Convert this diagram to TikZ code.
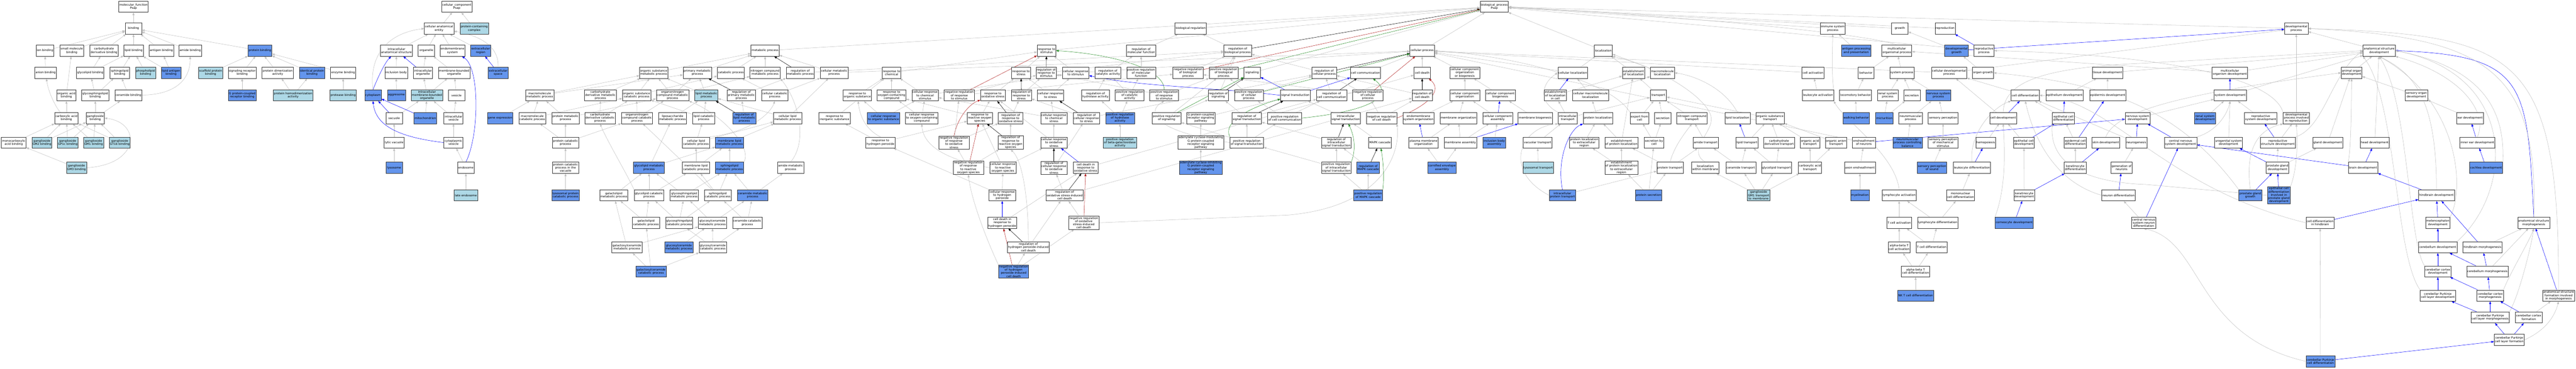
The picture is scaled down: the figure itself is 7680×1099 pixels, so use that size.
\documentclass[tikz,border=0pt]{standalone}
\usepackage{fontspec}
\setmainfont{DejaVu Sans}
\usetikzlibrary{arrows.meta}
\definecolor{lblue}{HTML}{ADD8E6}
\definecolor{cblue}{HTML}{6495ED}
\definecolor{egray}{HTML}{C0C0C0}
\definecolor{ered}{HTML}{B22222}
\definecolor{egreen}{HTML}{228B22}
\definecolor{eblue}{HTML}{0000FF}
\pgfdeclarelayer{back}
\pgfdeclarelayer{edges}
\pgfsetlayers{back,edges,main}
\tikzset{
 box/.style={draw=black!80, line width=1pt, fill=white, rectangle, inner xsep=2pt, inner ysep=1.5pt, minimum width=49pt, minimum height=33pt, align=center, font=\fontsize{8.8}{9.6}\selectfont},
 lb/.style={box, fill=lblue},
 cb/.style={box, fill=cblue},
 ebase/.style={line width=0.8pt, -{Triangle[length=8pt,width=6pt]}},
 eg/.style={ebase, draw=egray},
 eb/.style={ebase, draw=eblue},
 er/.style={ebase, draw=ered},
 en/.style={ebase, draw=egreen},
 ek/.style={ebase, draw=black}
}
\newcommand\xg[2]{\draw[eg] (#1) -- (#2);}
\newcommand\xb[2]{\draw[eb] (#1) -- (#2);}
\newcommand\xr[2]{\draw[er] (#1) -- (#2);}
\newcommand\xn[2]{\draw[en] (#1) -- (#2);}
\newcommand\xk[2]{\draw[ek] (#1) -- (#2);}
\begin{document}
\begin{tikzpicture}[x=1pt,y=-1pt]
\begin{pgfonlayer}{back}
\fill[white] (0,0) rectangle (7680,1099);
\end{pgfonlayer}
\useasboundingbox (0,0) rectangle (7680,1099);
% ---------------- MF ----------------
\node[box] (mf) at (398,20) {molecular\_function\\Psap};
\node[box] (binding) at (398,85) {binding};
\node[box] (ionb) at (134,151) {ion binding};
\node[box] (smb) at (214,151) {small molecule\\binding};
\node[box] (cdb) at (310,151) {carbohydrate\\derivative binding};
\node[box] (lipidb) at (398,151) {lipid binding};
\node[box] (antigenb) at (481,151) {antigen binding};
\node[box] (amideb) at (567,151) {amide binding};
\node[cb] (pb) at (775,151) {protein binding};
\node[box] (anionb) at (136,217) {anion binding};
\node[box] (glycolipidb) at (269,217) {glycolipid binding};
\node[box] (sphingolipidb) at (357,217) {sphingolipid\\binding};
\node[lb] (phospholipidb) at (434,217) {phospholipid\\binding};
\node[cb] (lipidantigenb) at (510,217) {lipid antigen\\binding};
\node[lb] (scaffoldb) at (628,217) {scaffold protein\\binding};
\node[box] (srb) at (722,217) {signaling receptor\\binding};
\node[box] (pdimer) at (828,217) {protein dimerization\\activity};
\node[cb] (ipb) at (930,217) {identical protein\\binding};
\node[box] (enzb) at (1023,217) {enzyme binding};
\node[box] (organicacidb) at (198,284) {organic acid\\binding};
\node[box] (glycosphingolipidb) at (284,284) {glycosphingolipid\\binding};
\node[box] (ceramideb) at (383,284) {ceramide binding};
\node[cb] (gpcrb) at (722,284) {G protein-coupled\\receptor binding};
\node[lb] (phomodimer) at (874,284) {protein homodimerization\\activity};
\node[lb] (proteaseb) at (1023,284) {protease binding};
\node[box] (carboxylicb) at (198,352) {carboxylic acid\\binding};
\node[box] (gangliosideb) at (284,352) {ganglioside\\binding};
\node[box] (monocarbb) at (41,425) {monocarboxylic\\acid binding};
\node[lb] (gm2) at (125,425) {ganglioside\\GM2 binding};
\node[lb] (gp1c) at (202,425) {ganglioside\\GP1c binding};
\node[lb] (gm1) at (279,425) {ganglioside\\GM1 binding};
\node[lb] (gt1b) at (357,425) {ganglioside\\GT1b binding};
\node[lb] (gm3) at (228,500) {ganglioside\\GM3 binding};
% ---------------- CC ----------------
\node[box] (cc) at (1362,20) {cellular\_component\\Psap};
\node[box] (cae) at (1309,85) {cellular anatomical\\entity};
\node[lb] (pcc) at (1414,85) {protein-containing\\complex};
\node[box] (ias) at (1182,151) {intracellular\\anatomical structure};
\node[box] (organelle) at (1271,151) {organelle};
\node[box] (endomembrane) at (1349,151) {endomembrane\\system};
\node[cb] (ecr) at (1433,151) {extracellular\\region};
\node[box] (inclusionbody) at (1181,217) {inclusion body};
\node[box] (io) at (1261,217) {intracellular\\organelle};
\node[box] (mbo) at (1354,217) {membrane-bounded\\organelle};
\node[cb] (ecs) at (1485,217) {extracellular\\space};
\node[cb] (cytoplasm) at (1112,284) {cytoplasm};
\node[cb] (aggresome) at (1182,284) {aggresome};
\node[lb] (imbo) at (1273,284) {intracellular\\membrane-bounded\\organelle};
\node[box] (vesicle) at (1361,284) {vesicle};
\node[box] (vacuole) at (1175,352) {vacuole};
\node[cb] (mito) at (1268,352) {mitochondrion};
\node[box] (ivesicle) at (1352,352) {intracellular\\vesicle};
\node[box] (lyticvac) at (1175,425) {lytic vacuole};
\node[box] (cytves) at (1352,425) {cytoplasmic\\vesicle};
\node[cb] (lysosome) at (1175,500) {lysosome};
\node[box] (endosome) at (1389,500) {endosome};
\node[lb] (lateendo) at (1389,582) {late endosome};
% ---------------- BP left ----------------
\node[box] (mmp) at (1609,284) {macromolecule\\metabolic process};
\node[cb] (geneexp) at (1491,352) {gene expression};
\node[box] (mcp) at (1587,352) {macromolecule\\catabolic process};
\node[box] (pmp) at (1686,352) {protein metabolic\\process};
\node[box] (cdmp) at (1790,284) {carbohydrate\\derivative metabolic\\process};
\node[box] (oscp) at (1898,284) {organic substance\\catabolic process};
\node[box] (cdcp) at (1789,352) {carbohydrate\\derivative catabolic\\process};
\node[box] (occp) at (1899,352) {organonitrogen\\compound catabolic\\process};
\node[box] (pcp) at (1686,425) {protein catabolic\\process};
\node[box] (pcpv) at (1686,500) {protein catabolic\\process in the\\vacuole};
\node[cb] (lpcp) at (1686,582) {lysosomal protein\\catabolic process};
\node[box] (osmetp) at (1949,217) {organic substance\\metabolic process};
\node[cb] (glmp) at (1935,500) {glycolipid metabolic\\process};
\node[box] (galmp) at (1830,582) {galactolipid\\metabolic process};
\node[box] (glcp) at (1935,582) {glycolipid catabolic\\process};
\node[box] (galcp) at (1926,664) {galactolipid\\catabolic process};
\node[box] (galcermp) at (1869,737) {galactosylceramide\\metabolic process};
\node[cb] (galcercp) at (1941,809) {galactosylceramide\\catabolic process};
\node[box] (metproc) at (2281,151) {metabolic process};
\node[box] (pmproc) at (2079,217) {primary metabolic\\process};
\node[box] (catproc) at (2179,217) {catabolic process};
\node[box] (ncmp) at (2281,217) {nitrogen compound\\metabolic process};
\node[box] (regmp) at (2386,217) {regulation of\\metabolic process};
\node[box] (cellmp) at (2487,217) {cellular metabolic\\process};
\node[box] (onmp) at (2005,284) {organonitrogen\\compound metabolic\\process};
\node[lb] (lmp) at (2106,284) {lipid metabolic\\process};
\node[box] (regpmp) at (2210,284) {regulation of\\primary metabolic\\process};
\node[box] (cellcat) at (2310,284) {cellular catabolic\\process};
\node[box] (rtos) at (2556,284) {response to\\organic substance};
\node[box] (liposacc) at (2005,352) {liposaccharide\\metabolic process};
\node[box] (lcp) at (2098,352) {lipid catabolic\\process};
\node[cb] (reglmp) at (2219,352) {regulation of\\lipid metabolic\\process};
\node[box] (clmp) at (2348,352) {cellular lipid\\metabolic process};
\node[box] (rtis) at (2488,352) {response to\\inorganic substance};
\node[box] (clcp) at (2075,425) {cellular lipid\\catabolic process};
\node[cb] (mlmp) at (2175,425) {membrane lipid\\metabolic process};
\node[box] (mlcp) at (2075,500) {membrane lipid\\catabolic process};
\node[cb] (slmp) at (2175,500) {sphingolipid\\metabolic process};
\node[box] (amidemp) at (2357,500) {amide metabolic\\process};
\node[box] (gslmp) at (2040,582) {glycosphingolipid\\metabolic process};
\node[box] (slcp) at (2140,582) {sphingolipid\\catabolic process};
\node[cb] (cermp) at (2244,582) {ceramide metabolic\\process};
\node[box] (gslcp) at (2025,664) {glycosphingolipid\\catabolic process};
\node[box] (gcermp) at (2124,664) {glycosylceramide\\metabolic process};
\node[box] (cercp) at (2228,664) {ceramide catabolic\\process};
\node[cb] (glucermp) at (2024,737) {glucosylceramide\\metabolic process};
\node[box] (gcercp) at (2125,737) {glycosylceramide\\catabolic process};
% ---------------- BP response ----------------
\node[box] (rts) at (3120,151) {response to\\stimulus};
\node[box] (rtchem) at (2658,217) {response to\\chemical};
\node[box] (rtstress) at (3044,217) {response to\\stress};
\node[box] (regrts) at (3119,217) {regulation of\\response to\\stimulus};
\node[box] (crstim) at (3207,217) {cellular response\\to stimulus};
\node[box] (rtocc) at (2658,284) {response to\\oxygen-containing\\compound};
\node[box] (crchem) at (2758,284) {cellular response\\to chemical\\stimulus};
\node[box] (negrts) at (2860,284) {negative regulation\\of response\\to stimulus};
\node[box] (rtoxs) at (2960,284) {response to\\oxidative stress};
\node[box] (regrtstress) at (3045,284) {regulation of\\response to\\stress};
\node[box] (crstress) at (3132,284) {cellular response\\to stress};
\node[cb] (cros) at (2634,352) {cellular response\\to organic substance};
\node[box] (crocc) at (2748,352) {cellular response\\to oxygen-containing\\compound};
\node[box] (rtros) at (2921,352) {response to\\reactive oxygen\\species};
\node[box] (regrtoxs) at (3013,352) {regulation of\\response to\\oxidative stress};
\node[box] (crcs) at (3142,352) {cellular response\\to chemical\\stress};
\node[box] (regcrs) at (3239,352) {regulation of\\cellular response\\to stress};
\node[box] (rthp) at (2625,425) {response to\\hydrogen peroxide};
\node[box] (negrtoxs) at (2844,425) {negative regulation\\of response\\to oxidative\\stress};
\node[box] (regrtros) at (3013,425) {regulation of\\response to\\reactive oxygen\\species};
\node[box] (croxs) at (3142,425) {cellular response\\to oxidative\\stress};
\node[box] (negrtros) at (2887,500) {negative regulation\\of response\\to reactive\\oxygen species};
\node[box] (crros) at (2990,500) {cellular response\\to reactive\\oxygen species};
\node[box] (regcroxs) at (3142,500) {regulation of\\cellular response\\to oxidative\\stress};
\node[box] (cdoxs) at (3237,500) {cell death in\\response to\\oxidative stress};
\node[box] (crhp) at (2988,582) {cellular response\\to hydrogen\\peroxide};
\node[box] (regoscd) at (3174,582) {regulation of\\oxidative stress-induced\\cell death};
\node[box] (cdrhp) at (2988,664) {cell death in\\response to\\hydrogen peroxide};
\node[box] (negoscd) at (3231,664) {negative regulation\\of oxidative\\stress-induced\\cell death};
\node[box] (reghpcd) at (3066,737) {regulation of\\hydrogen peroxide-induced\\cell death};
\node[cb] (neghpcd) at (3022,809) {negative regulation\\of hydrogen\\peroxide-induced\\cell death};
% ---------------- BP regulation ----------------
\node[box] (bioreg) at (3550,85) {biological regulation};
\node[box] (regmf) at (3402,151) {regulation of\\molecular function};
\node[box] (regbp) at (3690,151) {regulation of\\biological process};
\node[box] (regcat) at (3303,217) {regulation of\\catalytic activity};
\node[box] (posregmf) at (3402,217) {positive regulation\\of molecular\\function};
\node[box] (negregbp) at (3542,217) {negative regulation\\of biological\\process};
\node[box] (posregbp) at (3648,217) {positive regulation\\of biological\\process};
\node[box] (signaling) at (3733,217) {signaling};
\node[box] (reghyd) at (3266,284) {regulation of\\hydrolase activity};
\node[box] (posregcat) at (3368,284) {positive regulation\\of catalytic\\activity};
\node[box] (posregrts) at (3471,284) {positive regulation\\of response\\to stimulus};
\node[box] (regsig) at (3632,284) {regulation of\\signaling};
\node[box] (posregcp) at (3723,284) {positive regulation\\of cellular\\process};
\node[box] (st) at (3862,284) {signal transduction};
\node[cb] (posreghyd) at (3339,352) {positive regulation\\of hydrolase\\activity};
\node[box] (posregsig) at (3478,352) {positive regulation\\of signaling};
\node[box] (gpcrsp) at (3580,352) {G protein-coupled\\receptor signaling\\pathway};
\node[box] (regst) at (3717,352) {regulation of\\signal transduction};
\node[box] (posregcc) at (3830,352) {positive regulation\\of cell communication};
\node[lb] (posregbgal) at (3339,425) {positive regulation\\of beta-galactosidase\\activity};
\node[box] (acmgpcr) at (3580,425) {adenylate cyclase-modulating\\G protein-coupled\\receptor signaling\\pathway};
\node[box] (posregst) at (3717,425) {positive regulation\\of signal transduction};
\node[cb] (acigpcr) at (3580,500) {adenylate cyclase-inhibiting\\G protein-coupled\\receptor signaling\\pathway};
% ---------------- BP cellular ----------------
\node[box] (bp) at (4455,20) {biological\_process\\Psap};
\node[box] (cellproc) at (4240,151) {cellular process};
\node[box] (regcp) at (3948,217) {regulation of\\cellular process};
\node[box] (cellcomm) at (4071,217) {cell communication};
\node[box] (celldeath) at (4240,217) {cell death};
\node[box] (ccob) at (4367,217) {cellular component\\organization\\or biogenesis};
\node[box] (regcc) at (3970,284) {regulation of\\cell communication};
\node[box] (negregcp) at (4078,284) {negative regulation\\of cellular\\process};
\node[box] (regcd) at (4240,284) {regulation of\\cell death};
\node[box] (cco) at (4367,284) {cellular component\\organization};
\node[box] (ccb) at (4473,284) {cellular component\\biogenesis};
\node[box] (ist) at (4012,352) {intracellular\\signal transduction};
\node[box] (negregcd) at (4119,352) {negative regulation\\of cell death};
\node[box] (emso) at (4229,352) {endomembrane\\system organization};
\node[box] (memorg) at (4348,352) {membrane organization};
\node[box] (cca) at (4465,352) {cellular component\\assembly};
\node[box] (regist) at (3984,425) {regulation of\\intracellular\\signal transduction};
\node[box] (mapk) at (4114,425) {MAPK cascade};
\node[box] (pmorg) at (4244,425) {plasma membrane\\organization};
\node[box] (memassembly) at (4354,425) {membrane assembly};
\node[cb] (iba) at (4455,425) {inclusion body\\assembly};
\node[box] (posregist) at (3984,500) {positive regulation\\of intracellular\\signal transduction};
\node[cb] (regmapk) at (4079,500) {regulation of\\MAPK cascade};
\node[cb] (cornified) at (4299,500) {cornified envelope\\assembly};
\node[cb] (posregmapk) at (4079,582) {positive regulation\\of MAPK cascade};
% ---------------- BP localization ----------------
\node[box] (localization) at (4780,151) {localization};
\node[box] (cellloc) at (4689,217) {cellular localization};
\node[box] (estloc) at (4870,217) {establishment\\of localization};
\node[box] (mmloc) at (4956,217) {macromolecule\\localization};
\node[box] (estlocc) at (4637,284) {establishment\\of localization\\in cell};
\node[box] (cmmloc) at (4742,284) {cellular macromolecule\\localization};
\node[box] (transport) at (4944,284) {transport};
\node[box] (membiogen) at (4577,352) {membrane biogenesis};
\node[box] (ict) at (4674,352) {intracellular\\transport};
\node[box] (protloc) at (4764,352) {protein localization};
\node[box] (exportcell) at (4888,352) {export from\\cell};
\node[box] (secretion) at (4957,352) {secretion};
\node[box] (nct) at (5044,352) {nitrogen compound\\transport};
\node[box] (vact) at (4584,425) {vacuolar transport};
\node[box] (plecr) at (4723,425) {protein localization\\to extracellular\\region};
\node[box] (estpl) at (4834,425) {establishment\\of protein localization};
\node[box] (secbycell) at (4931,425) {secretion by\\cell};
\node[box] (amidet) at (5085,425) {amide transport};
\node[lb] (lysot) at (4586,500) {lysosomal transport};
\node[box] (estplecr) at (4834,500) {establishment\\of protein localization\\to extracellular\\region};
\node[box] (prott) at (4979,500) {protein transport};
\node[box] (lwm) at (5084,500) {localization\\within membrane};
\node[cb] (ipt) at (4658,582) {intracellular\\protein transport};
\node[cb] (protsec) at (4915,582) {protein secretion};
% ---------------- BP systems ----------------
\node[box] (immune) at (5464,85) {immune system\\process};
\node[box] (growth) at (5664,85) {growth};
\node[cb] (app) at (5534,151) {antigen processing\\and presentation};
\node[box] (mop) at (5655,151) {multicellular\\organismal process};
\node[box] (cellact) at (5405,217) {cell activation};
\node[box] (behavior) at (5563,217) {behavior};
\node[box] (sysproc) at (5670,217) {system process};
\node[box] (cdp) at (5811,217) {cellular developmental\\process};
\node[box] (leukact) at (5420,284) {leukocyte activation};
\node[box] (locbeh) at (5532,284) {locomotory behavior};
\node[box] (renalsp) at (5628,284) {renal system\\process};
\node[box] (excretion) at (5700,284) {excretion};
\node[cb] (nsp) at (5779,284) {nervous system\\process};
\node[box] (lipidloc) at (5180,352) {lipid localization};
\node[box] (ost) at (5277,352) {organic substance\\transport};
\node[cb] (walking) at (5534,352) {walking behavior};
\node[cb] (micturition) at (5618,352) {micturition};
\node[box] (nmp) at (5696,352) {neuromuscular\\process};
\node[box] (sensperc) at (5793,352) {sensory perception};
\node[box] (lipidt) at (5208,425) {lipid transport};
\node[box] (cdt) at (5304,425) {carbohydrate\\derivative transport};
\node[box] (oat) at (5396,425) {organic acid\\transport};
\node[box] (oant) at (5474,425) {organic anion\\transport};
\node[box] (enseath) at (5557,425) {ensheathment\\of neurons};
\node[cb] (nmpcb) at (5687,425) {neuromuscular\\process controlling\\balance};
\node[box] (spms) at (5793,425) {sensory perception\\of mechanical\\stimulus};
\node[box] (ceramidet) at (5190,500) {ceramide transport};
\node[box] (glycolipidt) at (5296,500) {glycolipid transport};
\node[box] (cat) at (5396,500) {carboxylic acid\\transport};
\node[box] (axonens) at (5545,500) {axon ensheathment};
\node[cb] (sps) at (5760,500) {sensory perception\\of sound};
\node[lb] (gm1t) at (5243,582) {ganglioside\\GM1 transport\\to membrane};
\node[cb] (myelination) at (5545,582) {myelination};
\node[box] (lymphact) at (5662,582) {lymphocyte activation};
\node[box] (tcellact) at (5662,664) {T cell activation};
\node[box] (lymphdiff) at (5777,664) {lymphocyte differentiation};
\node[box] (abtact) at (5662,737) {alpha-beta T\\cell activation};
\node[box] (tcelldiff) at (5759,737) {T cell differentiation};
\node[box] (abtdiff) at (5711,809) {alpha-beta T\\cell differentiation};
\node[cb] (nktdiff) at (5711,881) {NK T cell differentiation};
% ---------------- BP development ----------------
\node[box] (reproduction) at (5799,85) {reproduction};
\node[cb] (devgrowth) at (5833,151) {developmental\\growth};
\node[box] (reprodproc) at (5915,151) {reproductive\\process};
\node[box] (organgrowth) at (5912,217) {organ growth};
\node[box] (tissuedev) at (6283,217) {tissue development};
\node[box] (celldiff) at (6038,284) {cell differentiation};
\node[box] (epithdev) at (6155,284) {epithelium development};
\node[box] (epiddev) at (6284,284) {epidermis development};
\node[box] (celldev) at (5972,352) {cell development};
\node[box] (epcdiff) at (6152,352) {epithelial cell\\differentiation};
\node[box] (nsd) at (6373,352) {nervous system\\development};
\node[box] (hemopoiesis) at (5920,425) {hemopoiesis};
\node[box] (epcdev) at (6034,425) {epithelial cell\\development};
\node[box] (epidcdiff) at (6187,425) {epidermal cell\\differentiation};
\node[box] (skindev) at (6278,425) {skin development};
\node[box] (neurogenesis) at (6369,425) {neurogenesis};
\node[box] (leukdiff) at (5879,500) {leukocyte differentiation};
\node[box] (keratdiff) at (6187,500) {keratinocyte\\differentiation};
\node[box] (genneur) at (6325,500) {generation of\\neurons};
\node[box] (mncdiff) at (5845,582) {mononuclear\\cell differentiation};
\node[box] (keratdev) at (6035,582) {keratinocyte\\development};
\node[box] (neurdiff) at (6316,582) {neuron differentiation};
\node[cb] (cornocyte) at (6005,664) {corneocyte development};
\node[box] (cnsnd) at (6391,664) {central nervous\\system neuron\\differentiation};
\node[box] (devproc) at (6846,85) {developmental\\process};
\node[box] (asd) at (7093,151) {anatomical structure\\development};
\node[box] (mod) at (6648,217) {multicellular\\organism development};
\node[box] (aod) at (7011,217) {animal organ\\development};
\node[box] (sysdev) at (6649,284) {system development};
\node[box] (sensorgan) at (7204,284) {sensory organ\\development};
\node[cb] (renalsd) at (6574,352) {renal system\\development};
\node[box] (repsd) at (6740,352) {reproductive\\system development};
\node[box] (dpir) at (6846,352) {developmental\\process involved\\in reproduction};
\node[box] (eardev) at (7364,352) {ear development};
\node[box] (cnsd) at (6501,425) {central nervous\\system development};
\node[box] (ugsd) at (6644,425) {urogenital system\\development};
\node[box] (rsd) at (6791,425) {reproductive\\structure development};
\node[box] (glanddev) at (6940,425) {gland development};
\node[box] (headdev) at (7080,425) {head development};
\node[box] (innerear) at (7386,425) {inner ear development};
\node[box] (pgd) at (6790,500) {prostate gland\\development};
\node[box] (braindev) at (7045,500) {brain development};
\node[cb] (cochlea) at (7412,500) {cochlea development};
\node[cb] (pgg) at (6709,582) {prostate gland\\growth};
\node[cb] (ecdpgd) at (6794,582) {epithelial cell\\differentiation\\involved in\\prostate gland\\development};
\node[box] (hindbrain) at (7264,582) {hindbrain development};
\node[box] (cdhb) at (6917,664) {cell differentiation\\in hindbrain};
\node[box] (meten) at (7268,664) {metencephalon\\development};
\node[box] (asm) at (7554,664) {anatomical structure\\morphogenesis};
\node[box] (cerebdev) at (7268,737) {cerebellum development};
\node[box] (hbmorph) at (7401,737) {hindbrain morphogenesis};
\node[box] (ccd) at (7268,809) {cerebellar cortex\\development};
\node[box] (cbmorph) at (7416,809) {cerebellum morphogenesis};
\node[box] (cpcld) at (7268,881) {cerebellar Purkinje\\cell layer development};
\node[box] (ccmorph) at (7424,881) {cerebellar cortex\\morphogenesis};
\node[box] (asfim) at (7628,881) {anatomical structure\\formation involved\\in morphogenesis};
\node[box] (cpclm) at (7424,946) {cerebellar Purkinje\\cell layer morphogenesis};
\node[box] (ccform) at (7539,946) {cerebellar cortex\\formation};
\node[box] (cpclf) at (7481,1013) {cerebellar Purkinje\\cell layer formation};
\node[cb] (cpcd) at (6918,1077) {cerebellar Purkinje\\cell differentiation};
% ================= EDGES =================
\begin{pgfonlayer}{edges}
% MF
\xg{binding}{mf}
\xg{ionb}{binding}\xg{smb}{binding}\xg{cdb}{binding}\xg{lipidb}{binding}\xg{antigenb}{binding}\xg{amideb}{binding}\xg{pb}{binding}
\xg{anionb}{ionb}
\xg{glycolipidb}{cdb}\xg{glycolipidb}{lipidb}
\xg{sphingolipidb}{lipidb}\xg{phospholipidb}{lipidb}\xg{lipidantigenb}{lipidb}\xg{lipidantigenb}{antigenb}
\xg{scaffoldb}{pb}\xg{srb}{pb}\xg{pdimer}{pb}\xg{ipb}{pb}\xg{enzb}{pb}
\xg{organicacidb}{smb}
\xg{glycosphingolipidb}{glycolipidb}\xg{glycosphingolipidb}{sphingolipidb}
\xg{ceramideb}{sphingolipidb}
\draw[eg] (ceramideb) .. controls (520,282) and (567,240) .. (amideb);
\xg{gpcrb}{srb}\xg{phomodimer}{pdimer}\xg{phomodimer}{ipb}\xg{proteaseb}{enzb}
\xg{carboxylicb}{organicacidb}
\draw[eg] (carboxylicb) .. controls (170,325) and (145,280) .. (anionb);
\xg{gangliosideb}{glycosphingolipidb}\xg{gangliosideb}{ceramideb}
\xg{monocarbb}{carboxylicb}\xg{gm2}{carboxylicb}\xg{gm2}{gangliosideb}\xg{gp1c}{carboxylicb}\xg{gp1c}{gangliosideb}
\xg{gm1}{carboxylicb}\xg{gm1}{gangliosideb}\xg{gt1b}{carboxylicb}\xg{gt1b}{gangliosideb}
\xg{gm3}{monocarbb}
\draw[eg] (gm3.east) .. controls (420,490) and (420,365) .. (gangliosideb.east);
% CC
\xg{cae}{cc}\xg{pcc}{cc}
\xg{ias}{cae}\xg{organelle}{cae}\xg{endomembrane}{cae}\xg{ecr}{cae}
\draw[eg] (ecs.north) .. controls (1488,150) and (1450,110) .. (cae);
\draw[eg] (cytoplasm.north) .. controls (1100,170) and (1150,100) .. (cae.west);
\xg{inclusionbody}{ias}\xb{io}{ias}\xg{io}{organelle}\xg{mbo}{organelle}
\xb{ecs}{ecr}
\draw[eb] (cytoplasm.north) .. controls (1125,235) and (1145,190) .. (ias);
\xg{aggresome}{inclusionbody}
\xg{imbo}{io}\xg{imbo}{mbo}\xg{vesicle}{mbo}
\xb{vacuole}{cytoplasm}\xg{vacuole}{imbo}
\xb{mito}{cytoplasm}\xg{mito}{imbo}
\xg{ivesicle}{imbo}\xg{ivesicle}{vesicle}
\xg{lyticvac}{vacuole}
\xg{cytves}{ivesicle}
\draw[eb] (cytves.west) .. controls (1200,410) and (1120,380) .. (cytoplasm.south);
\xg{lysosome}{lyticvac}
\xg{endosome}{cytves}
\draw[eb] (endosome.north) .. controls (1430,400) and (1430,200) .. (endomembrane);
\xg{lateendo}{endosome}
% BP top
\xg{bioreg}{bp}\xg{metproc}{bp}\xg{rts}{bp}\xg{cellproc}{bp}\xg{localization}{bp}
\xk{regbp}{bp}\xr{negregbp}{bp}\xn{posregbp}{bp}
\xg{immune}{bp}\xg{growth}{bp}\xg{reproduction}{bp}\xg{devproc}{bp}\xg{reprodproc}{bp}\xg{signaling}{bp}
\draw[eg] (mop.north) .. controls (5600,110) and (5200,60) .. (bp.east);
% metabolism
\xg{mmp}{osmetp}\xg{mmp}{pmproc}
\xg{geneexp}{mmp}
\xg{mcp}{mmp}\xg{mcp}{oscp}
\xg{pmp}{mmp}\xg{pmp}{onmp}
\xg{pcp}{pmp}\xg{pcp}{mcp}\xg{pcp}{occp}
\xg{pcpv}{pcp}\xg{lpcp}{pcpv}
\xg{cdmp}{osmetp}
\xg{cdcp}{cdmp}\xg{cdcp}{oscp}
\xg{occp}{oscp}\xg{occp}{onmp}
\xg{oscp}{osmetp}\xg{oscp}{catproc}
\xg{osmetp}{metproc}
\xg{glmp}{liposacc}\xg{glmp}{mlmp}
\xg{galmp}{glmp}
\xg{glcp}{glmp}\xg{glcp}{mlcp}
\draw[eg] (glcp.north west) .. controls (1870,520) and (1810,420) .. (cdcp.south);
\xg{galcp}{galmp}\xg{galcp}{glcp}
\xg{galcermp}{galmp}\xg{galcermp}{gcermp}
\xg{galcercp}{galcermp}\xg{galcercp}{galcp}\xg{galcercp}{gcercp}
\xg{pmproc}{metproc}\xg{catproc}{metproc}\xg{ncmp}{metproc}\xk{regmp}{metproc}\xg{cellmp}{metproc}
\xg{onmp}{pmproc}\xg{onmp}{osmetp}\xg{onmp}{ncmp}
\xg{lmp}{pmproc}\xg{lmp}{osmetp}
\xk{regpmp}{pmproc}\xg{regpmp}{regmp}
\xg{cellcat}{catproc}\xg{cellcat}{cellmp}
\xg{liposacc}{lmp}
\xg{lcp}{lmp}\xg{lcp}{oscp}
\xk{reglmp}{lmp}\xg{reglmp}{regpmp}
\xg{clmp}{lmp}\xg{clmp}{cellmp}
\xg{clcp}{lcp}\xg{clcp}{clmp}
\draw[eg] (clcp.north east) .. controls (2250,392) and (2300,330) .. (cellcat.south);
\xg{mlmp}{clmp}
\xg{mlcp}{mlmp}\xg{mlcp}{clcp}
\xg{slmp}{mlmp}
\draw[eg] (slmp.north east) .. controls (2245,440) and (2150,340) .. (onmp.south east);
\draw[eg] (amidemp.north) .. controls (2410,420) and (2380,300) .. (ncmp.south east);
\xg{gslmp}{glmp}\xg{gslmp}{slmp}
\xg{slcp}{mlcp}\xg{slcp}{slmp}\xg{slcp}{occp}
\xg{cermp}{slmp}\xg{cermp}{amidemp}
\xg{gslcp}{glcp}\xg{gslcp}{gslmp}\xg{gslcp}{slcp}
\xg{gcermp}{gslmp}\xg{gcermp}{cermp}
\xg{cercp}{slcp}\xg{cercp}{cermp}
\xg{glucermp}{gcermp}
\xg{gcercp}{gcermp}\xg{gcercp}{gslcp}\xg{gcercp}{cercp}
\xg{regmp}{regbp}
% into cellular process
\xg{cellmp}{cellproc}\xg{crstim}{cellproc}\xk{regcp}{cellproc}\xn{posregcp}{cellproc}\xr{negregcp}{cellproc}
\xg{cellcomm}{cellproc}\xg{celldeath}{cellproc}\xg{ccob}{cellproc}\xg{cellloc}{cellproc}\xg{cellact}{cellproc}\xg{cdp}{cellproc}
\xg{enseath}{cellproc}
% response
\xg{rtchem}{rts}\xg{rtstress}{rts}\xk{regrts}{rts}\xg{crstim}{rts}\xr{negrts}{rts}
\draw[en] (posregrts.north) .. controls (3470,200) and (3300,160) .. (rts.east);
\xg{rtos}{rtchem}\xg{rtocc}{rtchem}\xg{crchem}{rtchem}\xg{rtis}{rtchem}
\xg{crchem}{crstim}
\xg{negrts}{regrts}\xg{negrts}{negregbp}
\xg{regrts}{regbp}
\xg{rtoxs}{rtstress}
\xk{regrtstress}{rtstress}\xg{regrtstress}{regrts}
\xg{crstress}{rtstress}\xg{crstress}{crstim}
\xg{cros}{rtos}\xg{cros}{crchem}
\xg{crocc}{rtocc}\xg{crocc}{crchem}
\xg{rtros}{rtocc}\xg{rtros}{rtoxs}
\xk{regrtoxs}{rtoxs}\xg{regrtoxs}{regrtstress}
\xg{crcs}{crstress}\xg{crcs}{crchem}
\xg{regcrs}{regrtstress}\xk{regcrs}{crstress}\xg{regcrs}{regcp}
\xg{rthp}{rtis}\xg{rthp}{rtros}
\draw[eg] (rthp.north) .. controls (2570,380) and (2562,330) .. (rtos);
\draw[er] (negrtoxs.north) .. controls (2855,350) and (2890,310) .. (rtoxs);
\xg{negrtoxs}{negrts}\xg{negrtoxs}{regrtoxs}
\xk{regrtros}{rtros}\xg{regrtros}{regrtoxs}
\xg{croxs}{crcs}\xg{croxs}{rtoxs}
\xg{negrtros}{negrtoxs}\xr{negrtros}{rtros}\xg{negrtros}{regrtros}
\draw[eg] (crros.west) .. controls (2790,470) and (2752,420) .. (crocc.south);
\xg{crros}{rtros}\xg{crros}{croxs}
\xk{regcroxs}{croxs}\xg{regcroxs}{regcrs}
\xb{cdoxs}{croxs}
\xg{crhp}{rthp}\xg{crhp}{crros}
\xg{regoscd}{regcroxs}\xk{regoscd}{cdoxs}
\xb{cdrhp}{crhp}\xg{cdrhp}{cdoxs}
\xg{negoscd}{regoscd}\xr{negoscd}{cdoxs}
\xk{reghpcd}{cdrhp}\xg{reghpcd}{regoscd}
\draw[eg] (reghpcd.north) .. controls (3066,600) and (3050,480) .. (regrtros.south);
\xr{neghpcd}{cdrhp}\xg{neghpcd}{reghpcd}
\draw[eg] (neghpcd.north west) .. controls (2935,700) and (2895,590) .. (negrtros.south);
\xg{neghpcd}{negoscd}
\xg{cdoxs}{celldeath}
\xg{regoscd}{regcd}
\draw[eg] (negoscd.east) -- (3840,641) .. controls (4130,615) and (4175,450) .. (negregcd.south east);
% regulation
\xg{regmf}{bioreg}\xg{regbp}{bioreg}
\xg{regcat}{regmf}\xg{posregmf}{regmf}
\xg{negregbp}{regbp}\xg{posregbp}{regbp}
\xg{reghyd}{regcat}\xg{posregcat}{regcat}\xg{posregcat}{posregmf}
\xg{posregrts}{regrts}\xg{posregrts}{posregbp}
\xg{regsig}{regbp}\xk{regsig}{signaling}
\xg{posregcp}{posregbp}\xg{posregcp}{regcp}
\xb{st}{signaling}\xb{st}{cellcomm}
\draw[eb] (st.west) .. controls (3600,259) and (3400,258) .. (crstim);
\xg{posreghyd}{reghyd}\xg{posreghyd}{posregcat}
\xg{posregsig}{regsig}\xn{posregsig}{signaling}\xg{posregsig}{posregbp}
\xg{gpcrsp}{st}
\xg{regst}{regsig}\xk{regst}{st}\xg{regst}{regcc}
\xg{posregcc}{regcc}\xg{posregcc}{posregcp}
\draw[en] (posregcc.east) .. controls (4140,325) and (4140,270) .. (cellcomm);
\xg{posregbgal}{posreghyd}
\xg{acmgpcr}{gpcrsp}
\xg{posregst}{regst}\xg{posregst}{posregsig}\xg{posregst}{posregcc}
\draw[en] (posregst.north west) .. controls (3640,355) and (3760,310) .. (st);
\draw[eg] (posregst.west) .. controls (3430,390) and (3420,330) .. (posregrts.south);
\xg{acigpcr}{acmgpcr}
\xg{regcp}{regbp}
\xg{regcc}{regcp}\xk{regcc}{cellcomm}
\xg{negregcp}{regcp}\xg{negregcp}{negregbp}
\xk{regcd}{celldeath}\xg{regcd}{regcp}
\xg{cco}{ccob}\xg{ccb}{ccob}
\xg{ist}{st}
\xg{negregcd}{regcd}\xg{negregcd}{negregcp}
\draw[er] (negregcd.east) .. controls (4290,300) and (4290,260) .. (celldeath);
\xg{emso}{cco}\xg{memorg}{cco}
\xg{cca}{cco}\xb{cca}{ccb}
\xk{regist}{ist}\xg{regist}{regst}
\xg{mapk}{ist}
\xb{pmorg}{emso}\xg{pmorg}{memorg}
\xg{memassembly}{memorg}\xg{memassembly}{cca}\xb{memassembly}{membiogen}
\xg{iba}{cca}
\xg{posregist}{regist}\xg{posregist}{posregst}
\draw[en] (posregist.north east) .. controls (4045,440) and (4035,400) .. (ist);
\xk{regmapk}{mapk}\xg{regmapk}{regist}
\xg{cornified}{pmorg}\xg{cornified}{memassembly}
\xg{posregmapk}{regmapk}\xg{posregmapk}{posregist}
\draw[en] (posregmapk.north east) .. controls (4128,520) and (4122,470) .. (mapk);
% localization
\xg{cellloc}{localization}\xg{estloc}{localization}\xg{mmloc}{localization}
\xb{estlocc}{cellloc}\xg{estlocc}{estloc}
\xg{cmmloc}{cellloc}\xg{cmmloc}{mmloc}
\xg{transport}{estloc}
\xg{membiogen}{ccb}
\xg{ict}{estlocc}\xg{ict}{transport}
\draw[eg] (ict.north west) .. controls (4580,300) and (4600,245) .. (cellloc.west);
\xg{protloc}{cmmloc}
\xg{exportcell}{transport}
\draw[eg] (exportcell.north west) .. controls (4810,250) and (4550,170) .. (cellproc.east);
\xg{secretion}{transport}\xg{nct}{transport}
\xg{vact}{ict}
\xg{plecr}{protloc}
\xg{estpl}{protloc}\xg{estpl}{estloc}
\xg{secbycell}{exportcell}\xg{secbycell}{secretion}
\xg{amidet}{nct}
\xg{lysot}{vact}
\xg{estplecr}{plecr}\xg{estplecr}{estpl}
\xg{prott}{estpl}\xg{prott}{amidet}
\draw[eg] (prott.north) .. controls (4990,440) and (5020,400) .. (nct.south);
\draw[eg] (lwm.north) .. controls (5030,450) and (5100,400) .. (5102,357) .. controls (5105,300) and (4950,200) .. (localization.south east);
\xg{ipt}{prott}
\draw[eg] (ipt.west) .. controls (4480,510) and (4530,380) .. (ict.south west);
\draw[eb] (ipt.north) .. controls (4640,470) and (4680,385) .. (protloc.south west);
\xg{protsec}{estplecr}\xg{protsec}{secbycell}\xg{protsec}{prott}
\xg{gm1t}{lwm}
% systems
\xg{app}{immune}
\draw[eg] (leukact.north east) .. controls (5460,220) and (5463,150) .. (immune.south);
\xg{behavior}{mop}\xg{sysproc}{mop}
\xg{cdp}{devproc}
\xg{leukact}{cellact}
\xg{locbeh}{behavior}
\xg{renalsp}{sysproc}\xg{excretion}{sysproc}\xg{nsp}{sysproc}
\draw[eg] (lipidloc.north) .. controls (5140,260) and (5050,225) .. (mmloc.east);
\xg{ost}{transport}
\xg{walking}{locbeh}
\xg{micturition}{renalsp}\xg{micturition}{excretion}
\xg{nmp}{nsp}
\xg{sensperc}{nsp}
\xb{lipidt}{lipidloc}\xg{lipidt}{ost}
\xg{cdt}{ost}\xg{oat}{ost}\xg{oant}{ost}
\xb{enseath}{nsd}
\xg{nmpcb}{nmp}
\xg{spms}{sensperc}
\xg{ceramidet}{lipidt}\xg{ceramidet}{amidet}
\xg{glycolipidt}{lipidt}\xg{glycolipidt}{cdt}
\xg{cat}{oat}\xg{cat}{oant}
\xg{axonens}{enseath}
\xg{sps}{spms}
\xg{gm1t}{ceramidet}\xg{gm1t}{glycolipidt}\xg{gm1t}{cat}
\xg{myelination}{axonens}
\draw[eg] (lymphact.north) .. controls (5650,460) and (5500,360) .. (leukact.south east);
\xg{tcellact}{lymphact}
\xg{lymphdiff}{lymphact}\xg{lymphdiff}{mncdiff}
\xg{abtact}{tcellact}
\xg{tcelldiff}{tcellact}\xg{tcelldiff}{lymphdiff}
\xg{abtdiff}{abtact}\xg{abtdiff}{tcelldiff}
\xg{nktdiff}{abtdiff}
% development
\xg{devgrowth}{growth}\xb{devgrowth}{devproc}
\xb{reprodproc}{reproduction}
\xg{organgrowth}{devgrowth}
\xg{tissuedev}{asd}
\xg{celldiff}{cdp}
\xg{epithdev}{tissuedev}\xg{epiddev}{tissuedev}
\xg{celldev}{cdp}\xb{celldev}{celldiff}
\draw[eg] (celldev.north) .. controls (5975,240) and (6100,200) .. (6400,188) -- (asd.west);
\xb{epcdiff}{epithdev}\xg{epcdiff}{celldiff}
\xg{nsd}{sysdev}
\xg{hemopoiesis}{celldev}
\xg{epcdev}{celldev}\xb{epcdev}{epcdiff}
\xg{epidcdiff}{epcdiff}\xb{epidcdiff}{epiddev}
\draw[eg] (skindev.north) .. controls (6310,330) and (6500,280) .. (aod.west);
\xb{neurogenesis}{nsd}
\xg{neurogenesis}{celldiff}
\xb{leukdiff}{hemopoiesis}
\draw[eg] (leukdiff.north) .. controls (5870,400) and (5940,320) .. (celldiff.south west);
\xg{keratdiff}{epidcdiff}\xb{keratdiff}{skindev}
\xg{genneur}{neurogenesis}
\xg{mncdiff}{leukdiff}
\xg{keratdev}{epcdev}\xb{keratdev}{keratdiff}
\xb{neurdiff}{genneur}
\draw[eg] (neurdiff.west) .. controls (6120,540) and (6060,400) .. (celldiff.south);
\xb{cornocyte}{keratdev}
\draw[eg] (cornocyte.north west) .. controls (5985,550) and (5975,420) .. (celldev.south);
\xg{cnsnd}{neurdiff}\xb{cnsnd}{cnsd}
\draw[eg] (ecdpgd.west) -- (6400,550) .. controls (6130,540) and (6115,430) .. (epcdiff.south west);
\xg{mod}{asd}\xg{mod}{mop}
\xb{sysdev}{mod}\xg{sysdev}{asd}
\xg{renalsd}{sysdev}\xg{repsd}{sysdev}
\xg{dpir}{devproc}
\draw[eg] (dpir.north west) .. controls (6780,240) and (6500,165) .. (reprodproc.east);
\xb{cnsd}{nsd}
\draw[eg] (cnsd.north east) .. controls (6610,390) and (6640,340) .. (sysdev.south);
\xg{ugsd}{sysdev}
\xb{rsd}{repsd}\xg{rsd}{dpir}
\draw[eg] (rsd.north east) .. controls (6930,380) and (6950,220) .. (asd.west);
\xg{glanddev}{aod}
\xg{headdev}{asd}
\xg{pgd}{rsd}\xb{pgd}{ugsd}\xg{pgd}{glanddev}
\xb{braindev}{cnsd}\xb{braindev}{headdev}
\draw[eg] (braindev.north west) .. controls (7010,440) and (7010,300) .. (aod.south);
\xb{pgg}{pgd}
\draw[eg] (pgg.north) .. controls (6695,460) and (6720,390) .. (dpir.south west);
\draw[eg] (pgg.north west) .. controls (6500,330) and (6300,250) .. (organgrowth.east);
\xb{ecdpgd}{pgd}
\draw[eg] (ecdpgd.north east) .. controls (6850,500) and (6850,420) .. (dpir.south);
\xb{cdhb}{hindbrain}
\draw[eg] (cdhb.west) .. controls (6450,560) and (6300,300) .. (celldiff.east);
\xg{cpcd}{cdhb}\xb{cpcd}{cpclf}
\draw[eg] (cpcd.west) .. controls (6540,1000) and (6570,720) .. (cnsnd.south);
\xg{asd}{devproc}
\xg{aod}{asd}
\xg{sensorgan}{aod}
\xg{eardev}{sensorgan}
\xb{innerear}{eardev}
\draw[eg] (innerear.north) .. controls (7420,330) and (7330,220) .. (asd.south east);
\xb{cochlea}{innerear}
\draw[eg] (cochlea.north east) .. controls (7465,380) and (7450,210) .. (asd.east);
\xb{hindbrain}{braindev}
\draw[eg] (hindbrain.north) .. controls (7264,300) and (7200,220) .. (asd.south);
\xb{meten}{hindbrain}
\draw[eg] (meten.north east) .. controls (7350,560) and (7330,300) .. (asd.south);
\draw[eb] (asm.north) .. controls (7534,250) and (7534,165) .. (asd.east);
\draw[eg] (asm.north) .. controls (7570,200) and (7400,110) .. (devproc.east);
\xb{cerebdev}{meten}
\draw[eg] (cerebdev.north east) .. controls (7500,560) and (7500,220) .. (asd.east);
\xb{hbmorph}{hindbrain}\xg{hbmorph}{asm}
\xb{ccd}{cerebdev}
\draw[eg] (ccd.north west) .. controls (7180,720) and (7180,300) .. (asd.south);
\xb{cbmorph}{cerebdev}\xb{cbmorph}{hbmorph}\xg{cbmorph}{asm}
\xb{cpcld}{ccd}
\draw[eg] (cpcld.north west) .. controls (7140,760) and (7145,300) .. (asd.south west);
\xb{ccmorph}{ccd}\xb{ccmorph}{cbmorph}
\draw[eg] (ccmorph.north east) .. controls (7480,820) and (7540,720) .. (asm.south);
\xb{asfim}{asm}
\draw[eg] (asfim.north) .. controls (7630,150) and (7500,105) .. (devproc.east);
\xb{cpclm}{cpcld}\xb{cpclm}{ccmorph}
\draw[eg] (cpclm.north east) .. controls (7510,880) and (7545,740) .. (asm.south);
\xb{ccform}{ccmorph}\xg{ccform}{asfim}
\xb{cpclf}{cpclm}\xb{cpclf}{ccform}
\draw[eg] (cpclf.east) .. controls (7600,980) and (7620,930) .. (asfim.south);
\end{pgfonlayer}
\end{tikzpicture}
\end{document}
